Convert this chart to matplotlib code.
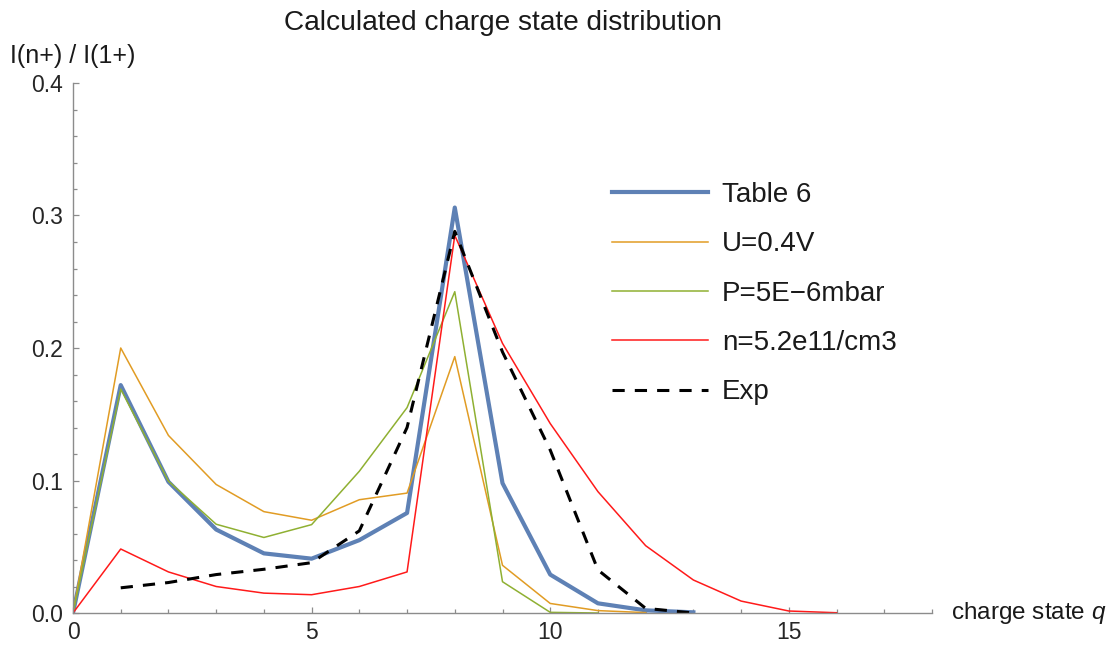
import matplotlib.pyplot as plt
from matplotlib.ticker import MultipleLocator

plt.rcParams["font.family"] = ["Liberation Sans", "DejaVu Sans"]
plt.rcParams["mathtext.fontset"] = "custom"
plt.rcParams["mathtext.it"] = "Liberation Sans:italic"
plt.rcParams["mathtext.rm"] = "Liberation Sans"

# charge states and relative intensities I(n+)/I(1+)
q_table6 = list(range(0, 14))
table6 = [0.0, 0.172, 0.099, 0.063, 0.045, 0.041, 0.055, 0.0755, 0.306,
          0.098, 0.029, 0.0073, 0.002, 0.0005]

q_voltage = list(range(0, 13))
voltage = [0.0, 0.200, 0.134, 0.097, 0.0765, 0.070, 0.0855, 0.0905, 0.1935,
           0.036, 0.0072, 0.0018, 0.0003]

q_pressure = list(range(0, 12))
pressure = [0.0, 0.169, 0.0995, 0.067, 0.057, 0.0667, 0.107, 0.155, 0.2425,
            0.0236, 0.0005, 0.0]

q_density = list(range(0, 17))
density = [0.0, 0.0483, 0.031, 0.020, 0.015, 0.0138, 0.020, 0.031, 0.285,
           0.2035, 0.143, 0.0916, 0.0508, 0.0249, 0.009, 0.0015, 0.0002]

q_exp = list(range(1, 14))
exp = [0.019, 0.023, 0.029, 0.033, 0.038, 0.062, 0.140, 0.288, 0.197,
       0.123, 0.0325, 0.0035, 0.0]

labels = ["Table 6", "U=0.4V", "P=5E\u22126mbar", "n=5.2e11/cm3", "Exp"]

fig = plt.figure(figsize=(11.16, 6.45), dpi=100)
ax = fig.add_axes([73 / 1116, 1 - 613 / 645, (932 - 73) / 1116, (613 - 83) / 645])

ax.plot(q_table6, table6, color="#5E81B5", lw=3.0, label=labels[0])
ax.plot(q_voltage, voltage, color="#E19C24", lw=1.1, label=labels[1])
ax.plot(q_pressure, pressure, color="#8FB032", lw=1.1, label=labels[2])
ax.plot(q_density, density, color="#FF1A1A", lw=1.1, label=labels[3])
ax.plot(q_exp, exp, color="black", lw=2.2, dashes=(4, 3.3),
        dash_capstyle="butt", label=labels[4])

ax.set_xlim(0, 18)
ax.set_ylim(0, 0.4)
ax.xaxis.set_major_locator(MultipleLocator(5))
ax.xaxis.set_minor_locator(MultipleLocator(1))
ax.yaxis.set_major_locator(MultipleLocator(0.1))
ax.yaxis.set_minor_locator(MultipleLocator(0.02))
ax.yaxis.set_major_formatter(lambda v, p: f"{v:.1f}")

for side in ("top", "right"):
    ax.spines[side].set_visible(False)
for side in ("left", "bottom"):
    ax.spines[side].set_color("#8c8c8c")
    ax.spines[side].set_linewidth(1.0)

ax.tick_params(which="both", direction="in", color="#8c8c8c", width=0.9,
               labelsize=16.5, labelcolor="#262626")
ax.tick_params(which="major", length=4.5)
ax.tick_params(which="minor", length=2.6)
ax.tick_params(axis="x", pad=6)
ax.tick_params(axis="y", pad=7)

leg = ax.legend(loc="upper left", bbox_to_anchor=(612 / 1116, 1 - 182 / 645),
                bbox_transform=fig.transFigure, frameon=False, fontsize=20,
                handlelength=3.45, handletextpad=0.5, labelspacing=0.84,
                borderpad=0, borderaxespad=0)
for t in leg.get_texts():
    t.set_color("#1a1a1a")

fig.text(503 / 1116, 1 - 23 / 645, "Calculated charge state distribution",
         ha="center", va="center", fontsize=20.2, color="#1a1a1a")
fig.text(10 / 1116, 1 - 56 / 645, "I(n+) / I(1+)", ha="left", va="center",
         fontsize=18, color="#1a1a1a")
ax.text(951 / 1116, 1 - 613 / 645, "charge state $q$", transform=fig.transFigure,
        ha="left", va="center", fontsize=17.5, color="#1a1a1a")

fig.savefig("out.png", dpi=100, facecolor="white")
